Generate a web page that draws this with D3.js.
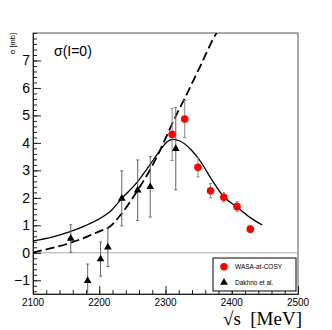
<!DOCTYPE html>
<html>
<head>
<meta charset="utf-8">
<style>
  body { margin: 0; background: #fff; }
  text { font-family: "Liberation Sans", Arial, sans-serif; }
</style>
</head>
<body>
<div id="chart"></div>
<script src="https://d3js.org/d3.v7.min.js"></script>
<script>
  const width = 332;
  const height = 330;
  const margin = {top: 33, right: 34, bottom: 36, left: 33};

  // WASA-at-COSY points
  const wasaX = [2310, 2329, 2349, 2368, 2388, 2408, 2428];
  const wasaY = [4.31, 4.87, 3.11, 2.26, 2.02, 1.68, 0.86];
  const wasaErr = [0.95, 0.67, 0.35, 0.26, 0.17, 0.18, 0.12];

  // Dakhno et al. points
  const dakX = [2157, 2182.5, 2202, 2213, 2234, 2258, 2277, 2315.5];
  const dakY = [0.52, -1.02, -0.23, 0.2, 1.98, 2.28, 2.4, 3.79];
  const dakErr = [0.5, 0.61, 0.62, 0.7, 1.0, 1.1, 1.1, 1.5];

  // solid curve
  const solidX = [2100, 2130, 2156, 2180, 2201, 2216, 2234, 2258, 2275, 2292, 2303, 2312, 2322, 2339, 2355, 2367, 2388, 2408, 2428, 2446];
  const solidY = [0.43, 0.58, 0.77, 1.0, 1.25, 1.49, 1.98, 2.59, 3.15, 3.74, 4.05, 4.13, 4.07, 3.74, 3.25, 2.77, 2.04, 1.66, 1.28, 1.01];

  // dashed curve
  const dashX = [2100, 2126, 2151, 2181, 2201, 2213, 2232, 2258, 2275, 2292, 2301, 2315, 2329, 2352, 2376, 2377];
  const dashY = [0.01, 0.16, 0.32, 0.58, 0.79, 0.9, 1.37, 2.28, 2.95, 3.74, 4.22, 4.95, 5.62, 6.77, 7.96, 8.0];

  const xTicks = [2100, 2200, 2300, 2400, 2500];
  const yTicks = [-1, 0, 1, 2, 3, 4, 5, 6, 7];

  const svg = d3.select("#chart").append("svg")
      .attr("width", width)
      .attr("height", height);

  const x = d3.scaleLinear().domain([2100, 2500]).range([margin.left, width - margin.right]);
  const y = d3.scaleLinear().domain([-1.5, 8]).range([height - margin.bottom, margin.top]);

  svg.append("clipPath").attr("id", "clip")
    .append("rect")
      .attr("x", x(2100)).attr("y", y(8))
      .attr("width", x(2500) - x(2100)).attr("height", y(-1.5) - y(8));

  // frame
  svg.append("rect")
      .attr("x", x(2100)).attr("y", y(8))
      .attr("width", x(2500) - x(2100)).attr("height", y(-1.5) - y(8))
      .attr("fill", "none").attr("stroke", "#555").attr("stroke-width", 1);

  // zero line
  svg.append("line")
      .attr("x1", x(2100)).attr("x2", x(2500))
      .attr("y1", y(0)).attr("y2", y(0))
      .attr("stroke", "#aaa").attr("stroke-width", 1);

  // ticks inside, ROOT style
  const xAxis = d3.axisBottom(x).tickValues(d3.range(2100, 2501, 20))
      .tickSize(-4).tickFormat("");
  svg.append("g").attr("transform", `translate(0,${y(-1.5)})`).call(xAxis)
      .call(g => g.select(".domain").attr("stroke", "#222"))
      .call(g => g.selectAll(".tick line").attr("stroke", "#222"));
  svg.append("g").attr("transform", `translate(0,${y(-1.5)})`)
      .call(d3.axisBottom(x).tickValues(xTicks).tickSize(-8).tickFormat(""))
      .call(g => g.select(".domain").remove())
      .call(g => g.selectAll(".tick line").attr("stroke", "#222"));
  svg.append("g").selectAll("text").data(xTicks).join("text")
      .attr("x", d => x(d)).attr("y", y(-1.5) + 12)
      .attr("text-anchor", "middle").attr("font-size", 10)
      .text(d => d);

  const yMinor = d3.range(-1.4, 8.01, 0.2);
  svg.append("g").attr("transform", `translate(${x(2100)},0)`)
      .call(d3.axisLeft(y).tickValues(yMinor).tickSize(-4).tickFormat(""))
      .call(g => g.select(".domain").attr("stroke", "#222"))
      .call(g => g.selectAll(".tick line").attr("stroke", "#222"));
  svg.append("g").attr("transform", `translate(${x(2100)},0)`)
      .call(d3.axisLeft(y).tickValues(yTicks).tickSize(-8).tickFormat(""))
      .call(g => g.select(".domain").remove())
      .call(g => g.selectAll(".tick line").attr("stroke", "#222"));
  svg.append("g").selectAll("text").data(yTicks).join("text")
      .attr("x", x(2100) - 3).attr("y", d => y(d) + 5)
      .attr("text-anchor", "end").attr("font-size", 14)
      .text(d => d < 0 ? "\u2212" + Math.abs(d) : d);

  const plot = svg.append("g").attr("clip-path", "url(#clip)");

  // curves
  const line = d3.line().x(d => x(d[0])).y(d => y(d[1])).curve(d3.curveMonotoneX);
  plot.append("path")
      .datum(solidX.map((v, i) => [v, solidY[i]]))
      .attr("d", line).attr("fill", "none")
      .attr("stroke", "#000").attr("stroke-width", 1.3);
  plot.append("path")
      .datum(dashX.map((v, i) => [v, dashY[i]]))
      .attr("d", line).attr("fill", "none")
      .attr("stroke", "#000").attr("stroke-width", 1.8)
      .attr("stroke-dasharray", "9,4");

  // error bars
  function errBars(xs, ys, es, col) {
    const g = plot.append("g").attr("stroke", col).attr("stroke-width", 1);
    xs.forEach((v, i) => {
      g.append("line").attr("x1", x(v)).attr("x2", x(v))
        .attr("y1", y(ys[i] - es[i])).attr("y2", y(ys[i] + es[i]));
      [ys[i] - es[i], ys[i] + es[i]].forEach(e => {
        g.append("line").attr("x1", x(v) - 1.5).attr("x2", x(v) + 1.5)
          .attr("y1", y(e)).attr("y2", y(e));
      });
    });
  }
  errBars(dakX, dakY, dakErr, "#666");
  errBars(wasaX, wasaY, wasaErr, "#888");

  const tri = d3.symbol().type(d3.symbolTriangle).size(26);
  plot.selectAll(".tri").data(dakX).join("path")
      .attr("transform", (d, i) => `translate(${x(d)},${y(dakY[i])})`)
      .attr("d", tri).attr("fill", "#000");
  plot.selectAll(".dot").data(wasaX).join("circle")
      .attr("cx", d => x(d)).attr("cy", (d, i) => y(wasaY[i]))
      .attr("r", 3.8).attr("fill", "#ff0000");

  // legend
  const lg = svg.append("g");
  lg.append("rect").attr("x", 213).attr("y", 258).attr("width", 83).attr("height", 33)
      .attr("fill", "#fff").attr("stroke", "#000").attr("stroke-width", 1);
  lg.append("circle").attr("cx", 224).attr("cy", 266.7).attr("r", 3.8).attr("fill", "#ff0000");
  lg.append("path").attr("transform", "translate(224,282.5)").attr("d", tri).attr("fill", "#000");
  lg.append("text").attr("x", 235).attr("y", 269).attr("font-size", 6.5).text("WASA-at-COSY");
  lg.append("text").attr("x", 235).attr("y", 285).attr("font-size", 6.5).text("Dakhno et al.");

  // titles
  svg.append("text").attr("x", 54).attr("y", 56).attr("font-size", 14).text("σ(I=0)");
  svg.append("text")
      .attr("transform", `translate(15,${margin.top}) rotate(-90)`)
      .attr("text-anchor", "end").attr("font-size", 7.5).text("σ [mb]");
  svg.append("text").attr("x", 302).attr("y", 325)
      .attr("text-anchor", "end").attr("font-size", 19)
      .style("font-family", "'Liberation Serif', 'DejaVu Serif', serif")
      .text("√s\u00a0\u00a0[MeV]");
</script>
</body>
</html>
